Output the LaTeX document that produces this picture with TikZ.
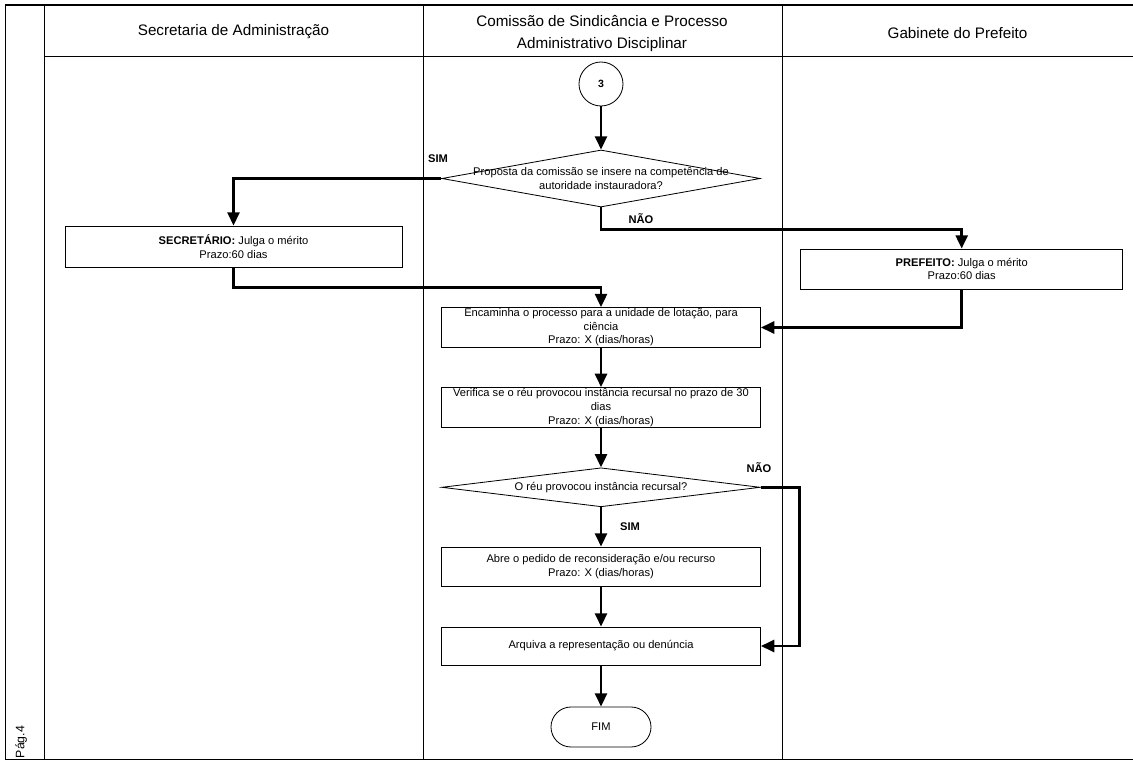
\documentclass[tikz,border=0pt]{standalone}
\usepackage{fontspec}
\setmainfont{Liberation Sans}
\usetikzlibrary{arrows.meta,positioning,shapes.geometric}

\begin{document}
\begin{tikzpicture}[
  x=0.03cm, y=-0.03cm,
  font=\fontsize{9.5}{11.6}\selectfont,
  >={Triangle[length=4mm,width=3.6mm]},
  box/.style={draw, line width=0.7pt, align=center, inner sep=1pt, minimum width=9.57cm, minimum height=1.17cm},
  decision/.style={draw, diamond, line width=0.7pt, inner sep=0pt, minimum width=9.55cm},
  lane/.style={line width=0.6pt},
  head/.style={font=\fontsize{13}{19}\selectfont, align=center},
  lbl/.style={font=\fontsize{9.5}{11}\selectfont\bfseries},
  arrow/.style={->, line width=2.4pt}
]
  \useasboundingbox (0,0) rectangle (1133,768);

  \draw[line width=1.6pt] (5,5) -- (1133,5);
  \draw[lane] (5,5) -- (5,759) -- (1133,759);
  \draw[lane] (44,5) -- (44,759);
  \draw[lane] (44,56) -- (1133,56);
  \draw[lane] (423,5) -- (423,759);
  \draw[lane] (782,5) -- (782,759);

  \node[head] (hsec) at (233.5,32) {Secretaria de Administração};
  \node[head] (hcom) at (602,33.5) {Comissão de Sindicância e Processo\\Administrativo Disciplinar};
  \node[head] (hgab) at (957.5,33) {Gabinete do Prefeito};
  \node[rotate=90, font=\fontsize{10.5}{12}\selectfont] (pag) at (21,742) {Pág.4};

  \node[draw, circle, line width=0.7pt, minimum size=1.32cm, font=\fontsize{9}{10}\selectfont\bfseries] (c3) at (601,84) {3};
  \node[decision, minimum height=1.71cm] (d1) at (601,178.5) {};
  \node[align=center, font=\fontsize{9.5}{12.7}\selectfont] (d1t) at (d1) {Proposta da comissão se insere na competência de\\autoridade instauradora?};
  \node[box, minimum width=10.11cm, minimum height=1.23cm] (sec) at (233.5,246.5) {\textbf{SECRETÁRIO:} Julga o mérito\\Prazo:60 dias};
  \node[box, minimum width=9.66cm, minimum height=1.2cm] (pref) at (961.7,269) {\textbf{PREFEITO:} Julga o mérito\\Prazo:60 dias};
  \node[box] (enc) at (601,327.5) {Encaminha o processo para a unidade de lotação, para\\ciência\\Prazo: X (dias/horas)};
  \node[box, minimum height=1.2cm] (ver) at (601,407.5) {Verifica se o réu provocou instância recursal no prazo de 30\\dias\\Prazo: X (dias/horas)};
  \node[decision, minimum height=1.17cm] (d2) at (601,487.3) {};
  \node (d2t) at (d2) {O réu provocou instância recursal?};
  \node[box] (abre) at (601,566.5) {Abre o pedido de reconsideração e/ou recurso\\Prazo: X (dias/horas)};
  \node[box, minimum height=1.14cm] (arq) at (601,646) {Arquiva a representação ou denúncia};
  \node[draw, line width=0.7pt, rounded corners=0.6cm, minimum width=3cm, minimum height=1.2cm] (fim) at (601,727) {FIM};

  \node[lbl] (sim1) at (438,159) {SIM};
  \node[lbl] (nao1) at (641,219) {NÃO};
  \node[lbl] (nao2) at (759,468) {NÃO};
  \node[lbl] (sim2) at (630,527) {SIM};

  \draw[arrow] (c3) -- (d1);
  \draw[arrow] (d1.west) -| (sec.north);
  \draw[arrow] (d1.south) -- ++(0,22) -| (pref.north);
  \draw[arrow] (sec.south) -- ++(0,20) -| (enc.north);
  \draw[arrow] (pref.south) |- (enc.east);
  \draw[arrow] (enc) -- (ver);
  \draw[arrow] (ver) -- (d2);
  \draw[arrow] (d2.east) -- ++(39,0) |- (arq.east);
  \draw[arrow] (d2) -- (abre);
  \draw[arrow] (abre) -- (arq);
  \draw[arrow] (arq) -- (fim);
\end{tikzpicture}
\end{document}
